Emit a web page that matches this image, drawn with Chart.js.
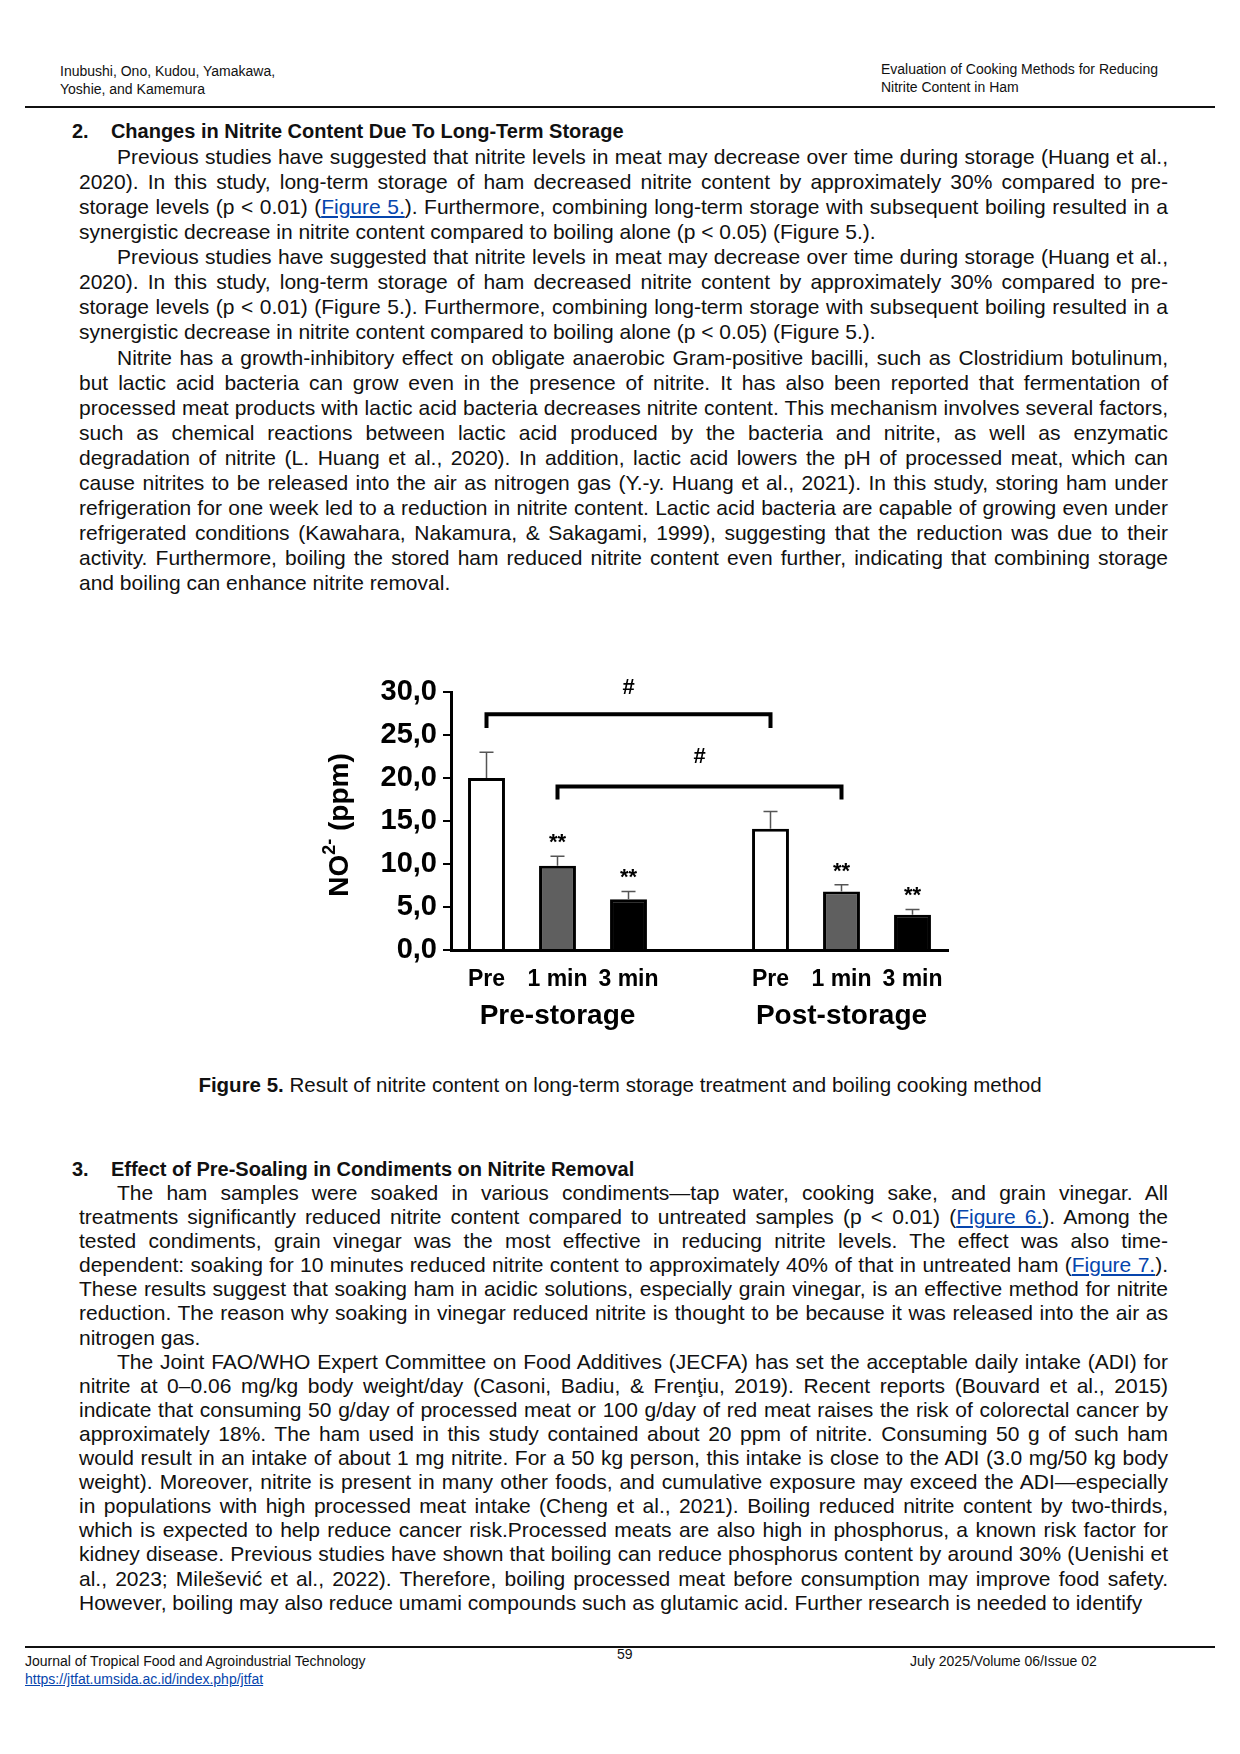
<!DOCTYPE html>
<html>
<head>
<meta charset="utf-8">
<script src="https://cdn.jsdelivr.net/npm/chart.js@4"></script>
<style>
  body { margin: 0; background: #fff; font-family: "Liberation Sans", Arial, sans-serif; color: #111; }
  #page { position: relative; width: 1240px; height: 1754px; overflow: hidden; }
  .abs { position: absolute; }
  .hdr { font-size: 14px; line-height: 18px; }
  .txt { left: 79px; width: 1089px; font-size: 21px; text-align: justify; }
  .txt p { margin: 0; text-indent: 38px; }
  .h { left: 72px; font-size: 20px; font-weight: bold; }
  a { color: #0645ad; }
  .rule { left: 25px; width: 1190px; border-top: 2px solid #111; height: 0; }
</style>
</head>
<body>
<div id="page">
  <div class="abs hdr" style="left:60px;top:62px">Inubushi, Ono, Kudou, Yamakawa,<br>Yoshie, and Kamemura</div>
  <div class="abs hdr" style="left:881px;top:60px">Evaluation of Cooking Methods for Reducing<br>Nitrite Content in Ham</div>
  <div class="abs rule" style="top:106px"></div>

  <div class="abs h" style="top:120px">2.&nbsp;&nbsp;&nbsp;&nbsp;Changes in Nitrite Content Due To Long-Term Storage</div>
  <div class="abs txt" style="top:144px;line-height:25.06px">
    <p>Previous studies have suggested that nitrite levels in meat may decrease over time during storage (Huang et al., 2020). In this study, long-term storage of ham decreased nitrite content by approximately 30% compared to pre-storage levels (p &lt; 0.01) (<a href="#">Figure 5.</a>). Furthermore, combining long-term storage with subsequent boiling resulted in a synergistic decrease in nitrite content compared to boiling alone (p &lt; 0.05) (Figure 5.).</p>
    <p>Previous studies have suggested that nitrite levels in meat may decrease over time during storage (Huang et al., 2020). In this study, long-term storage of ham decreased nitrite content by approximately 30% compared to pre-storage levels (p &lt; 0.01) (Figure 5.). Furthermore, combining long-term storage with subsequent boiling resulted in a synergistic decrease in nitrite content compared to boiling alone (p &lt; 0.05) (Figure 5.).</p>
    <p>Nitrite has a growth-inhibitory effect on obligate anaerobic Gram-positive bacilli, such as Clostridium botulinum, but lactic acid bacteria can grow even in the presence of nitrite. It has also been reported that fermentation of processed meat products with lactic acid bacteria decreases nitrite content. This mechanism involves several factors, such as chemical reactions between lactic acid produced by the bacteria and nitrite, as well as enzymatic degradation of nitrite (L. Huang et al., 2020). In addition, lactic acid lowers the pH of processed meat, which can cause nitrites to be released into the air as nitrogen gas (Y.-y. Huang et al., 2021). In this study, storing ham under refrigeration for one week led to a reduction in nitrite content. Lactic acid bacteria are capable of growing even under refrigerated conditions (Kawahara, Nakamura, &amp; Sakagami, 1999), suggesting that the reduction was due to their activity. Furthermore, boiling the stored ham reduced nitrite content even further, indicating that combining storage and boiling can enhance nitrite removal.</p>
  </div>

  <div class="abs" style="left:300px;top:657px;width:660px;height:400px"><canvas id="fig5"></canvas></div>

  <div class="abs" style="left:0;width:1240px;top:1073px;text-align:center;font-size:20.5px"><b>Figure 5.</b> Result of nitrite content on long-term storage treatment and boiling cooking method</div>

  <div class="abs h" style="top:1158px">3.&nbsp;&nbsp;&nbsp;&nbsp;Effect of Pre-Soaling in Condiments on Nitrite Removal</div>
  <div class="abs txt" style="top:1181px;line-height:24.1px">
    <p>The ham samples were soaked in various condiments—tap water, cooking sake, and grain vinegar. All treatments significantly reduced nitrite content compared to untreated samples (p &lt; 0.01) (<a href="#">Figure 6.</a>). Among the tested condiments, grain vinegar was the most effective in reducing nitrite levels. The effect was also time-dependent: soaking for 10 minutes reduced nitrite content to approximately 40% of that in untreated ham (<a href="#">Figure 7.</a>). These results suggest that soaking ham in acidic solutions, especially grain vinegar, is an effective method for nitrite reduction. The reason why soaking in vinegar reduced nitrite is thought to be because it was released into the air as nitrogen gas.</p>
    <p>The Joint FAO/WHO Expert Committee on Food Additives (JECFA) has set the acceptable daily intake (ADI) for nitrite at 0–0.06 mg/kg body weight/day (Casoni, Badiu, &amp; Frenţiu, 2019). Recent reports (Bouvard et al., 2015) indicate that consuming 50 g/day of processed meat or 100 g/day of red meat raises the risk of colorectal cancer by approximately 18%. The ham used in this study contained about 20 ppm of nitrite. Consuming 50 g of such ham would result in an intake of about 1 mg nitrite. For a 50 kg person, this intake is close to the ADI (3.0 mg/50 kg body weight). Moreover, nitrite is present in many other foods, and cumulative exposure may exceed the ADI—especially in populations with high processed meat intake (Cheng et al., 2021). Boiling reduced nitrite content by two-thirds, which is expected to help reduce cancer risk.Processed meats are also high in phosphorus, a known risk factor for kidney disease. Previous studies have shown that boiling can reduce phosphorus content by around 30% (Uenishi et al., 2023; Milešević et al., 2022). Therefore, boiling processed meat before consumption may improve food safety. However, boiling may also reduce umami compounds such as glutamic acid. Further research is needed to identify</p>
  </div>

  <div class="abs rule" style="top:1646px"></div>
  <div class="abs hdr" style="left:25px;top:1652px">Journal of Tropical Food and Agroindustrial Technology<br><a href="#">https://jtfat.umsida.ac.id/index.php/jtfat</a></div>
  <div class="abs hdr" style="left:617px;top:1645px">59</div>
  <div class="abs hdr" style="left:910px;top:1652px">July 2025/Volume 06/Issue 02</div>
</div>
<script>
// Figure 5 data (ppm)
const slots = ['Pre', '1 min', '3 min', '', 'Pre', '1 min', '3 min'];
const meanValues = [20.0, 9.8, 5.9, null, 14.1, 6.8, 4.1];
const errValues = [3.0, 1.1, 0.9, null, 2.0, 0.8, 0.6];
const fillColors = ['#ffffff', '#5f5f5f', '#000000', '#ffffff', '#ffffff', '#5f5f5f', '#000000'];
const starSlots = [1, 2, 5, 6];
const starValues = [12.9, 8.9, 9.6, 6.8];
const groupNames = ['Pre-storage', 'Post-storage'];
const yTicks = [0, 5, 10, 15, 20, 25, 30];
// brackets: [from slot, to slot, bar level, tip level, hash level]
const brackets = [[0, 4, 27.4, 25.8, 30.5], [1, 5, 19.0, 17.5, 22.4]];

const fig5Extras = {
    id: 'fig5Extras',
    afterDatasetsDraw(chart) {
        const c = chart.ctx, x = chart.scales.x, y = chart.scales.y;
        c.save();
        // error bars (upper only)
        c.strokeStyle = '#555';
        c.lineWidth = 1.5;
        meanValues.forEach((v, i) => {
            if (v == null) return;
            const px = x.getPixelForValue(i);
            const top = y.getPixelForValue(v + errValues[i]);
            c.beginPath();
            c.moveTo(px, y.getPixelForValue(v)); c.lineTo(px, top);
            c.moveTo(px - 7, top); c.lineTo(px + 7, top);
            c.stroke();
        });
        // brackets
        c.strokeStyle = '#000';
        c.lineWidth = 4;
        c.fillStyle = '#000';
        c.textAlign = 'center';
        c.textBaseline = 'middle';
        c.font = 'bold 22px "Liberation Sans", Arial';
        brackets.forEach(b => {
            const x1 = x.getPixelForValue(b[0]), x2 = x.getPixelForValue(b[1]);
            const yb = y.getPixelForValue(b[2]), yt = y.getPixelForValue(b[3]);
            c.beginPath();
            c.moveTo(x1, yt); c.lineTo(x1, yb); c.lineTo(x2, yb); c.lineTo(x2, yt);
            c.stroke();
            c.fillText('#', (x1 + x2) / 2, y.getPixelForValue(b[4]));
        });
        starSlots.forEach((s, k) => {
            c.fillText('**', x.getPixelForValue(s), y.getPixelForValue(starValues[k]) + 4);
        });
        // category and group labels
        c.font = 'bold 23px "Liberation Sans", Arial';
        const base = y.getPixelForValue(0);
        slots.forEach((s, i) => { if (s) c.fillText(s, x.getPixelForValue(i), base + 30); });
        c.font = 'bold 28px "Liberation Sans", Arial';
        c.fillText(groupNames[0], x.getPixelForValue(1), base + 66);
        c.fillText(groupNames[1], x.getPixelForValue(5), base + 66);
        // y axis title with superscript
        c.translate(40, (chart.chartArea.top + base) / 2 + 4);
        c.rotate(-Math.PI / 2);
        c.textAlign = 'left';
        c.font = 'bold 28px "Liberation Sans", Arial';
        const w1 = c.measureText('NO').width;
        c.font = 'bold 18px "Liberation Sans", Arial';
        const w2 = c.measureText('2-').width;
        c.font = 'bold 28px "Liberation Sans", Arial';
        const w3 = c.measureText(' (ppm)').width;
        let sx = -(w1 + w2 + w3) / 2;
        c.fillText('NO', sx, 0);
        c.font = 'bold 18px "Liberation Sans", Arial';
        c.fillText('2-', sx + w1, -10);
        c.font = 'bold 28px "Liberation Sans", Arial';
        c.fillText(' (ppm)', sx + w1 + w2, 0);
        c.restore();
    }
};

new Chart(document.getElementById('fig5').getContext('2d'), {
    type: 'bar',
    data: {
        labels: slots,
        datasets: [{
            data: meanValues,
            backgroundColor: fillColors,
            borderColor: '#000',
            borderWidth: 3,
            borderSkipped: 'bottom',
            barPercentage: 1,
            categoryPercentage: 0.52
        }]
    },
    options: {
        responsive: true,
        maintainAspectRatio: false,
        animation: false,
        layout: { padding: { top: 35, right: 12 } },
        plugins: { legend: { display: false }, tooltip: { enabled: false } },
        scales: {
            x: {
                grid: { display: false },
                border: { color: '#000', width: 3 },
                ticks: { display: false },
                afterFit: s => { s.height = 107; }
            },
            y: {
                min: 0, max: 30,
                afterBuildTicks: s => { s.ticks = yTicks.map(v => ({ value: v })); },
                grid: { drawOnChartArea: false, color: '#000', lineWidth: 2, tickLength: 8 },
                border: { color: '#000', width: 3 },
                ticks: {
                    color: '#000',
                    padding: 6,
                    font: { family: '"Liberation Sans", Arial', size: 29, weight: 'bold' },
                    callback: v => v.toFixed(1).replace('.', ',')
                },
                afterFit: s => { s.width = 151; }
            }
        }
    },
    plugins: [fig5Extras]
});
</script>
</body>
</html>
